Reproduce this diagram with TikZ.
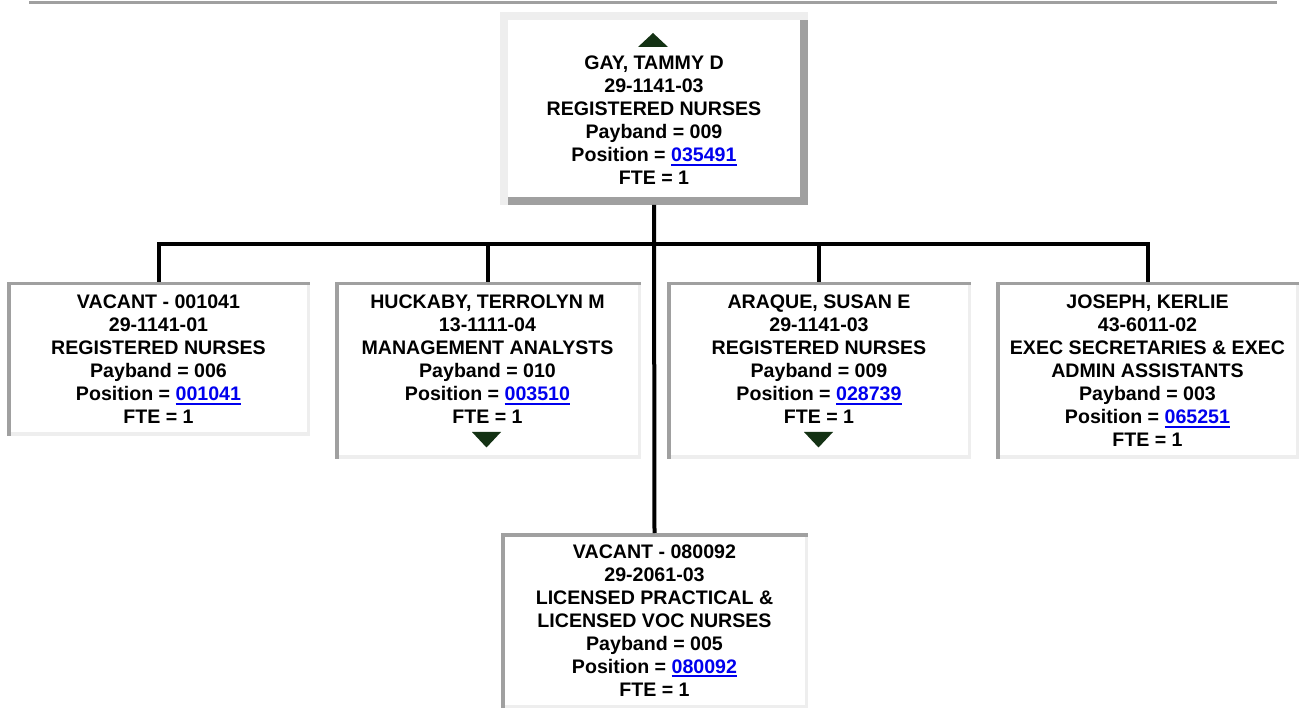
\documentclass[tikz,border=0pt]{standalone}
\usepackage{fontspec}
\setmainfont{Liberation Sans}
\usetikzlibrary{calc}
\definecolor{bvdark}{HTML}{A0A0A0}
\definecolor{bvlight}{HTML}{EEEEEE}
\definecolor{lnkblue}{HTML}{0000EE}
\definecolor{trigreen}{HTML}{143214}
\newcommand\lnk[1]{{\color{lnkblue}\setbox0\hbox{#1}\rlap{\rule[-3.6pt]{\wd0}{1.8pt}}\box0}}
% #1 node, #2 top-left colour, #3 bottom-right colour, #4 width
\newcommand\bevel[4]{%
  \fill[#2] (#1.north west) rectangle ([xshift=#4pt]#1.south west);
  \fill[#2] (#1.north west) rectangle ([yshift=-#4pt]#1.north east);
  \fill[#3] ([yshift=-#4pt]#1.north east) rectangle ([xshift=-#4pt]#1.south east);
  \fill[#3] ([xshift=#4pt]#1.south west) rectangle ([yshift=#4pt]#1.south east);
}
\newcommand\boxlines[4]{%
  \foreach \t [count=\i] in {#4} {\node[txt] (#1-\i) at (#2,{#3+23*(\i-1)}) {\t};}
}
\tikzset{
  orgbox/.style={rectangle, inner sep=0pt, outer sep=0pt, fill=white, draw=none},
  txt/.style={anchor=base, inner sep=0pt, font=\bfseries\fontsize{19.6}{23}\selectfont},
  conn/.style={line width=4pt, draw=black},
  tri/.style={fill=trigreen},
  rulegray/.style={line width=3pt, draw=bvdark},
}
\begin{document}
\begin{tikzpicture}[x=1pt,y=-1pt]
\useasboundingbox (0,0) rectangle (1299,708);
% top rule
\coordinate (rl) at (29,2.5);
\coordinate (rr) at (1277,2.5);
\draw[rulegray] (rl) -- (rr);

% boxes
\node[orgbox, minimum width=308pt, minimum height=193pt] (top) at (654,108.5) {};
\node[orgbox, minimum width=303pt, minimum height=154pt] (b1) at (158.5,359) {};
\node[orgbox, minimum width=306pt, minimum height=177pt] (b2) at (488,370.5) {};
\node[orgbox, minimum width=304pt, minimum height=177pt] (b3) at (819,370.5) {};
\node[orgbox, minimum width=303pt, minimum height=177pt] (b4) at (1147.5,370.5) {};
\node[orgbox, minimum width=307pt, minimum height=175pt] (b5) at (654.5,620.5) {};

\bevel{top}{bvlight}{bvdark}{8}
\bevel{b1}{bvdark}{bvlight}{3.5}
\bevel{b2}{bvdark}{bvlight}{3.5}
\bevel{b3}{bvdark}{bvlight}{3.5}
\bevel{b4}{bvdark}{bvlight}{3.5}
\bevel{b5}{bvdark}{bvlight}{3.5}

% connectors
\coordinate (bus) at (654,244);
\draw[conn] (top.south) -- (b5.north);
\draw[conn] (b1.north) -- (b1.north |- bus) -- (b4.north |- bus) -- (b4.north);
\draw[conn] (b2.north) -- (b2.north |- bus);
\draw[conn] (b3.north) -- (b3.north |- bus);

% triangles
\fill[tri] (638,47) -- (668,47) -- (653,33) -- cycle;
\fill[tri] (472,432) -- (501,432) -- (486.5,447.5) -- cycle;
\fill[tri] (804,432) -- (833,432) -- (818.5,447.5) -- cycle;

% texts
\boxlines{t}{654}{70}{{GAY, TAMMY D},{29-1141-03},{REGISTERED NURSES},{Payband = 009},{Position = \lnk{035491}},{FTE = 1}}
\boxlines{a}{158.5}{309}{{VACANT - 001041},{29-1141-01},{REGISTERED NURSES},{Payband = 006},{Position = \lnk{001041}},{FTE = 1}}
\boxlines{c}{487.5}{309}{{HUCKABY, TERROLYN M},{13-1111-04},{MANAGEMENT ANALYSTS},{Payband = 010},{Position = \lnk{003510}},{FTE = 1}}
\boxlines{d}{819}{309}{{ARAQUE, SUSAN E},{29-1141-03},{REGISTERED NURSES},{Payband = 009},{Position = \lnk{028739}},{FTE = 1}}
\boxlines{e}{1147.5}{309}{{JOSEPH, KERLIE},{43-6011-02},{EXEC SECRETARIES \& EXEC},{ADMIN ASSISTANTS},{Payband = 003},{Position = \lnk{065251}},{FTE = 1}}
\boxlines{f}{654.5}{558}{{VACANT - 080092},{29-2061-03},{LICENSED PRACTICAL \&},{LICENSED VOC NURSES},{Payband = 005},{Position = \lnk{080092}},{FTE = 1}}
\end{tikzpicture}
\end{document}
